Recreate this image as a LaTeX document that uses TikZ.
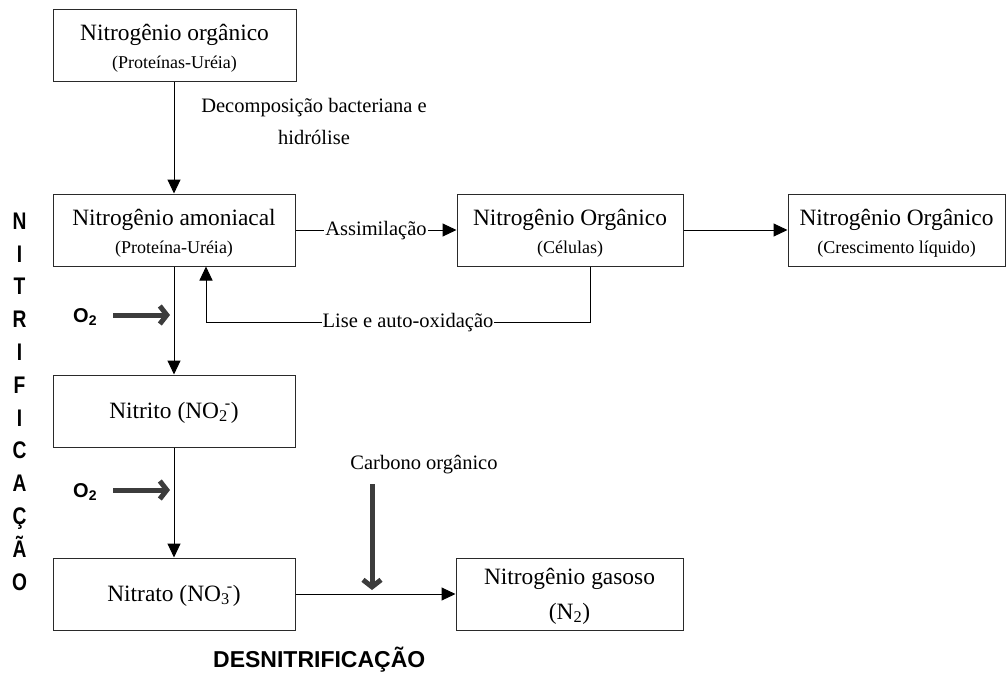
\documentclass[tikz,border=0pt]{standalone}
\usepackage{fontspec}
\setmainfont{Liberation Serif}
\newfontfamily\sansb{Liberation Sans}
\newfontfamily\sansn{Liberation Sans}[FakeStretch=0.8]
\usetikzlibrary{arrows.meta}
\definecolor{fatgray}{HTML}{3C3C3C}
\definecolor{boxline}{HTML}{2A2A2A}
\newcommand{\ionsub}[1]{\textsubscript{#1}\kern-0.12em\textsuperscript{-}}
\tikzset{
  box/.style={draw=boxline, line width=1pt, inner sep=0pt, minimum height=72pt},
  ttl/.style={font=\fontsize{23.4}{28}\selectfont, anchor=base, inner sep=0pt},
  sub/.style={font=\fontsize{18}{22}\selectfont, anchor=base, inner sep=0pt},
  lbl/.style={font=\fontsize{20.5}{24}\selectfont, inner sep=1pt},
  conn/.style={line width=1pt, -{Triangle[length=14pt,width=13pt]}},
  fat/.style={line width=5pt, draw=fatgray, -{Straight Barb[length=7pt,width=18pt]}},
  otwo/.style={font=\sansb\bfseries\fontsize{20}{24}\selectfont, anchor=base west, inner sep=0pt}
}
\begin{document}
\begin{tikzpicture}[x=1pt,y=-1pt]
\useasboundingbox (0,0) rectangle (1008,675);

% boxes
\node[box, minimum width=243pt] (org) at (174.5,45.5) {};
\node[ttl] (orgT) at (174.5,40) {Nitrogênio orgânico};
\node[sub] (orgS) at (174.5,68) {(Proteínas-Uréia)};

\node[box, minimum width=242pt] (amo) at (174,230) {};
\node[ttl] (amoT) at (174,225) {Nitrogênio amoniacal};
\node[sub] (amoS) at (174,253) {(Proteína-Uréia)};

\node[box, minimum width=226pt] (cel) at (570,230) {};
\node[ttl] (celT) at (570,225) {Nitrogênio Orgânico};
\node[sub] (celS) at (570,253) {(Células)};

\node[box, minimum width=217pt] (cre) at (896.5,230) {};
\node[ttl] (creT) at (896.5,225) {Nitrogênio Orgânico};
\node[sub] (creS) at (896.5,253) {(Crescimento líquido)};

\node[box, minimum width=242pt] (nitrito) at (174,411) {};
\node[ttl] (nitritoT) at (174,418) {Nitrito (NO\ionsub{2})};

\node[box, minimum width=242pt] (nitrato) at (174,594) {};
\node[ttl] (nitratoT) at (174,601) {Nitrato (NO\ionsub{3})};

\node[box, minimum width=227pt] (gas) at (569.5,594) {};
\node[ttl] (gasT) at (569.5,584) {Nitrogênio gasoso};
\node[ttl] (gasS) at (569.5,619) {(N\textsubscript{2})};

% connectors
\draw[conn] (org.south -| amo.north) -- (amo.north);
\node[lbl, anchor=base] (dec1) at (314,112) {Decomposição bacteriana e};
\node[lbl, anchor=base] (dec2) at (314,144) {hidrólise};

\draw[conn] (amo.east) -- node[lbl, fill=white, yshift=-1pt] (assim) {Assimilação} (cel.west);
\draw[conn] (cel.east) -- (cre.west);
\draw[conn] ([xshift=20pt]cel.south) -- ++(0,56) coordinate (lc)
  -| node[pos=0.237, lbl, fill=white] (lise) {Lise e auto-oxidação} ([xshift=32pt]amo.south);
\draw[conn] (amo.south) -- (nitrito.north);
\draw[conn] (nitrito.south) -- (nitrato.north);
\draw[conn] (nitrato.east) -- (gas.west);

% oxygen inputs
\node[otwo] (o2a) at (73,322) {O\textsubscript{2}};
\coordinate (o2aS) at (113,315);
\coordinate (o2aE) at (170,315);
\draw[fat] (o2aS) -- (o2aE);

\node[otwo] (o2b) at (73,497) {O\textsubscript{2}};
\coordinate (o2bS) at (113,490);
\coordinate (o2bE) at (170,490);
\draw[fat] (o2bS) -- (o2bE);

% organic carbon input
\node[lbl, anchor=base] (carb) at (424,469) {Carbono orgânico};
\coordinate (cS) at (372,484);
\coordinate (cE) at (372,590);
\draw[fat] (cS) -- (cE);

% side titles
\node[font=\sansn\bfseries\fontsize{24}{32.8}\selectfont, align=center, inner sep=0pt] (nitrif) at (19.5,401.5)
  {N\\I\\T\\R\\I\\F\\I\\C\\A\\Ç\\Ã\\O};
\node[font=\sansb\bfseries\fontsize{23}{28}\selectfont, anchor=base west, inner sep=0pt] (desn) at (213,667) {DESNITRIFICAÇÃO};
\end{tikzpicture}
\end{document}
